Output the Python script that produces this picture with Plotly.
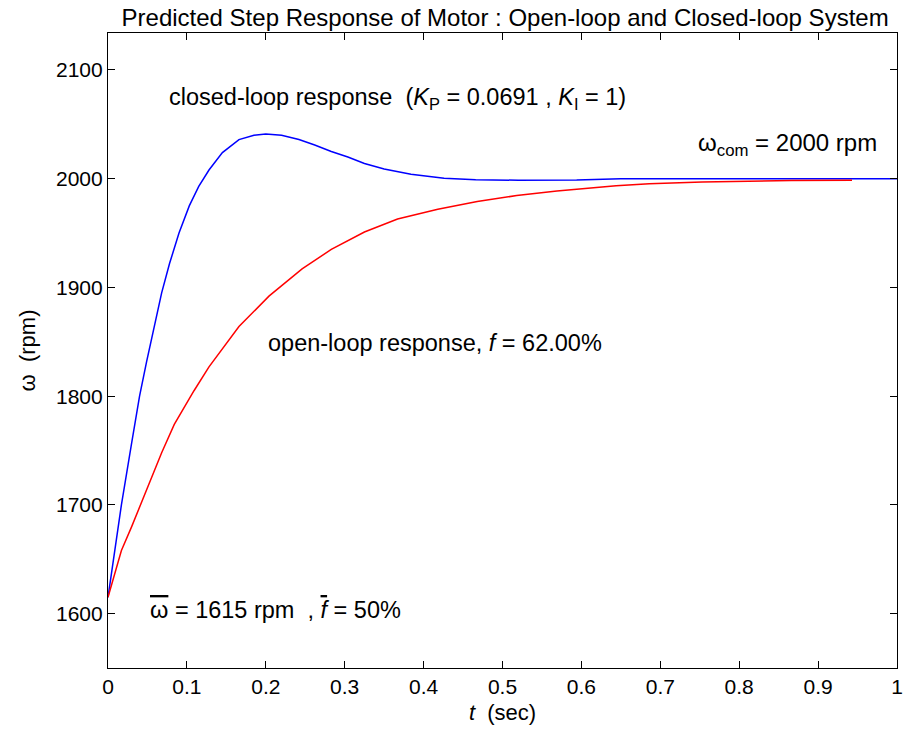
import plotly.graph_objects as go

# Closed-loop (PI controlled) speed response, rpm
t_closed = [0, 0.007, 0.017, 0.030, 0.040, 0.049, 0.058, 0.068, 0.078, 0.090,
            0.103, 0.115, 0.128, 0.145, 0.166, 0.185, 0.200, 0.220, 0.242, 0.262,
            0.283, 0.304, 0.325, 0.350, 0.384, 0.426, 0.466, 0.520, 0.594, 0.650,
            0.800, 1.000]
w_closed = [1615, 1652, 1700, 1757, 1800, 1832, 1862, 1895, 1922, 1950,
            1975, 1993, 2008, 2024, 2036, 2040, 2041, 2040, 2036, 2031,
            2025, 2020, 2014, 2009, 2004, 2000.5, 1999, 1998.6, 1998.8, 2000,
            2000, 2000]

# Open-loop response, duty cycle f = 62%
t_open = [0, 0.0025, 0.017, 0.030, 0.042, 0.053, 0.068, 0.084, 0.109, 0.128,
          0.145, 0.166, 0.204, 0.246, 0.283, 0.325, 0.367, 0.418, 0.468, 0.518,
          0.569, 0.610, 0.644, 0.686, 0.753, 0.866, 0.943]
w_open = [1615, 1621, 1658, 1680, 1701, 1722, 1748, 1774, 1805, 1827,
          1844, 1864, 1892, 1917, 1935, 1951, 1963, 1972, 1979, 1984.5,
          1988.6, 1991.3, 1993.5, 1995.3, 1997, 1998.4, 1998.6]

x_ticks = [0, 0.1, 0.2, 0.3, 0.4, 0.5, 0.6, 0.7, 0.8, 0.9, 1]
x_tick_text = ["0", "0.1", "0.2", "0.3", "0.4", "0.5", "0.6", "0.7", "0.8", "0.9", "1"]
y_ticks = [1600, 1700, 1800, 1900, 2000, 2100]

FONT = "Liberation Sans, Arial, sans-serif"

fig = go.Figure()
fig.add_trace(go.Scatter(x=t_closed, y=w_closed, mode="lines",
                         line=dict(color="rgb(0,0,255)", width=1.5),
                         showlegend=False, hoverinfo="skip"))
fig.add_trace(go.Scatter(x=t_open, y=w_open, mode="lines",
                         line=dict(color="rgb(255,0,0)", width=1.5),
                         showlegend=False, hoverinfo="skip"))

axis_common = dict(
    showline=True, linecolor="black", linewidth=1.2, mirror="ticks",
    ticks="inside", ticklen=7, tickcolor="black", tickwidth=1,
    showgrid=False, zeroline=False,
    tickfont=dict(family=FONT, size=21, color="black"),
)

fig.update_layout(
    width=906, height=738,
    paper_bgcolor="white", plot_bgcolor="white",
    margin=dict(l=108, r=3, t=33, b=70),
    title=dict(text="Predicted Step Response of Motor : Open-loop and Closed-loop System",
               x=0.5575, xanchor="center", y=0.976, yanchor="middle",
               font=dict(family=FONT, size=24, color="black")),
    xaxis=dict(range=[0, 1], tickvals=x_ticks, ticktext=x_tick_text,
               ticklabeloverflow="allow",
               title=dict(text="<i>t</i>  (sec)", standoff=7,
                          font=dict(family=FONT, size=22, color="black")),
               **axis_common),
    yaxis=dict(range=[1550, 2134], tickvals=y_ticks,
               title=dict(text="ω  (rpm)", standoff=14,
                          font=dict(family=FONT, size=22, color="black")),
               **axis_common),
)

ann_font = dict(family=FONT, size=23.5, color="black")
bar = '<span style="text-decoration:overline">{}</span>'
fig.add_annotation(x=0.0742, y=2074, xref="x", yref="y", xanchor="left", yanchor="middle",
                   text="closed-loop response  (<i>K</i><sub>P</sub> = 0.0691 , <i>K</i><sub>I</sub> = 1)",
                   showarrow=False, font=ann_font)
fig.add_annotation(x=0.745, y=2031, xref="x", yref="y", xanchor="left", yanchor="middle",
                   text="ω<sub>com</sub> = 2000 rpm",
                   showarrow=False, font=dict(family=FONT, size=24, color="black"))
fig.add_annotation(x=0.2, y=1849, xref="x", yref="y", xanchor="left", yanchor="middle",
                   text="open-loop response, <i>f</i> = 62.00%",
                   showarrow=False, font=ann_font)
fig.add_annotation(x=0.0503, y=1603, xref="x", yref="y", xanchor="left", yanchor="middle",
                   text=bar.format("ω") + " = 1615 rpm  , " + bar.format("<i>f</i>") + " = 50%",
                   showarrow=False, font=ann_font)

fig.write_html("out.html")
